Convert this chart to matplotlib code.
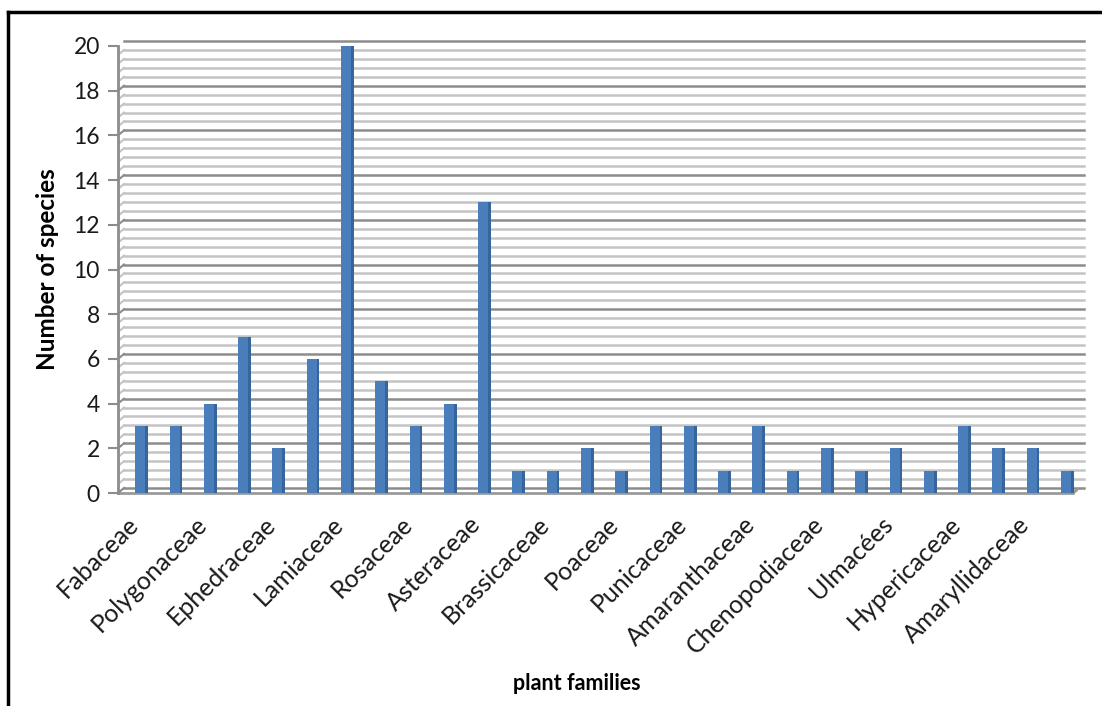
import matplotlib
matplotlib.use('Agg')
import matplotlib.pyplot as plt
import matplotlib.transforms as mtransforms
from matplotlib.lines import Line2D
import numpy as np

# species count per plant family (only every other family is labelled in the chart)
families = ['Fabaceae', '', 'Polygonaceae', '', 'Ephedraceae', '', 'Lamiaceae', '',
            'Rosaceae', '', 'Asteraceae', '', 'Brassicaceae', '', 'Poaceae', '',
            'Punicaceae', '', 'Amaranthaceae', '', 'Chenopodiaceae', '', 'Ulmacées', '',
            'Hypericaceae', '', 'Amaryllidaceae', '']
species = [3, 3, 4, 7, 2, 6, 20, 5, 3, 4, 13, 1, 1, 2, 1, 3, 3, 1, 3, 1, 2, 1, 2, 1, 3, 2, 2, 1]
y_ticks = [0, 2, 4, 6, 8, 10, 12, 14, 16, 18, 20]

plt.rcParams['font.family'] = ['Lato', 'DejaVu Sans']

fig = plt.figure(figsize=(11.02, 7.06), dpi=100)
ax = fig.add_axes([118 / 1102, 1 - 493 / 706, 960 / 1102, 447 / 706])

x = np.arange(len(species))
ax.set_xlim(-0.65, len(species) - 0.65)
ax.set_ylim(0, 20)

# 3d back wall: shifted copy of the grid, 6px right and 5px up
off = mtransforms.ScaledTranslation(6 / 100, 5 / 100, fig.dpi_scale_trans)
blend = mtransforms.blended_transform_factory(ax.transAxes, ax.transData)
back = blend + off


def diagonal(xa, v, col, lw):
    # short slanted segment from the front edge to the back wall
    tr = mtransforms.Affine2D().scale(100 / 72) + mtransforms.Affine2D().translate(*blend.transform((xa, v)))
    ax.add_line(Line2D([0, 6 / 100 * 72], [0, 5 / 100 * 72], color=col, lw=lw, zorder=1, transform=tr))


for v in np.arange(0, 20.001, 0.4):
    major = abs(v / 2 - round(v / 2)) < 1e-6
    col = '#8c8c8c' if major else '#c4c4c4'
    ax.plot([0, 0.9995], [v, v], transform=back, color=col, lw=1.8, zorder=1, clip_on=False)
    diagonal(0, v, col, 1.5)

# floor
ax.plot([0, 0.995], [0, 0], transform=blend, color='#9a9a9a', lw=2, zorder=2, clip_on=False)
diagonal(0.995, 0, '#9a9a9a', 2)

# bars: front face, darker side face
ax.bar(x, species, width=0.29, color='#4a7ebb', zorder=3)
ax.bar(x + 0.145 + 0.04, species, width=0.08, color='#36659c', zorder=3)

for s in ['top', 'right', 'bottom']:
    ax.spines[s].set_visible(False)
ax.spines['left'].set_color('#8c8c8c')
ax.spines['left'].set_linewidth(2)
ax.spines['left'].set_zorder(4)

ax.set_yticks(y_ticks)
ax.tick_params(axis='y', length=7, width=1.5, color='#8c8c8c', labelsize=16.5, pad=6,
               labelcolor='#1a1a1a')
ax.set_xticks(x[::2])
ax.set_xticklabels(families[::2], rotation=45, ha='right', va='center', rotation_mode='anchor',
                   fontsize=18, color='#1a1a1a')
ax.tick_params(axis='x', length=0, pad=20)
shift = mtransforms.ScaledTranslation(-6 / 100, 0, fig.dpi_scale_trans)
for lab in ax.get_xticklabels():
    lab.set_transform(lab.get_transform() + shift)

ax.set_ylabel('Number of species', fontsize=17.5, fontweight='bold', labelpad=10)
fig.text(577 / 1102, 1 - 683 / 706, 'plant families', fontsize=15.5, fontweight='bold',
         ha='center', va='center')

# outer frame
fig.add_artist(Line2D([8 / 1102, 8 / 1102], [0, 1 - 12 / 706], color='black', lw=2.5))
fig.add_artist(Line2D([8 / 1102, 1], [1 - 12 / 706, 1 - 12 / 706], color='black', lw=2.5))

fig.savefig('out.png', dpi=100)
